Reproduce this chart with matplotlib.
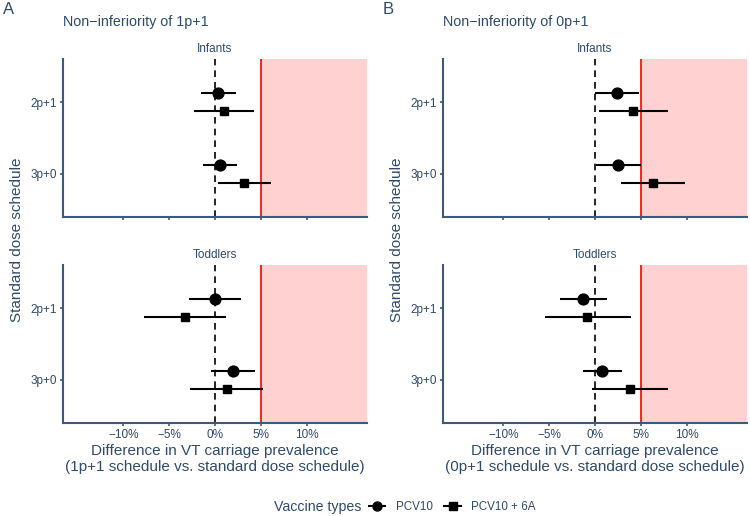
import matplotlib
matplotlib.use('Agg')
import matplotlib.pyplot as plt
from matplotlib.lines import Line2D

plt.rcParams['font.family'] = ['Liberation Sans', 'DejaVu Sans']

schedules = ['2p+1', '3p+0']
vaccines = ['PCV10', 'PCV10 + 6A']
xticks = [-10, -5, 0, 5, 10]
xtick_labels = ['\u221210%', '\u22125%', '0%', '5%', '10%']
margin = 5

# Panel A: non-inferiority of 1p+1  (values per schedule: 2p+1, 3p+0)
A_inf_pcv10 = [0.36, 0.54]
A_inf_pcv10_lo = [-1.56, -1.34]
A_inf_pcv10_hi = [2.25, 2.43]
A_inf_6a = [1.01, 3.19]
A_inf_6a_lo = [-2.25, 0.29]
A_inf_6a_hi = [4.24, 6.16]
A_tod_pcv10 = [0.0, 1.99]
A_tod_pcv10_lo = [-2.86, -0.40]
A_tod_pcv10_hi = [2.79, 4.42]
A_tod_6a = [-3.33, 1.30]
A_tod_6a_lo = [-7.72, -2.68]
A_tod_6a_hi = [1.16, 5.29]

# Panel B: non-inferiority of 0p+1
B_inf_pcv10 = [2.36, 2.54]
B_inf_pcv10_lo = [0.0, 0.11]
B_inf_pcv10_hi = [4.82, 5.0]
B_inf_6a = [4.13, 6.30]
B_inf_6a_lo = [0.40, 2.86]
B_inf_6a_hi = [7.93, 9.86]
B_tod_pcv10 = [-1.27, 0.76]
B_tod_pcv10_lo = [-3.84, -1.34]
B_tod_pcv10_hi = [1.30, 2.90]
B_tod_6a = [-0.83, 3.80]
B_tod_6a_lo = [-5.47, -0.36]
B_tod_6a_hi = [3.88, 8.00]

TXT = '#2E4A6C'
AX = '#3D5A7C'
W, H = 750, 516

fig = plt.figure(figsize=(7.5, 5.16), dpi=100)

def fx(px):
    return px / W

def fy(py):
    return 1 - py / H

def draw_panel(ax, est1, lo1, hi1, est2, lo2, hi2, strip, bottom):
    ypos = [2, 1]
    xl = (-16.6, 16.6)
    ax.axvspan(margin, xl[1], color='#FFD1D1', zorder=0, lw=0)
    ax.axvline(margin, color='#FF1010', lw=1.3, zorder=1)
    ax.axvline(0, color='black', lw=1.2, ls=(0, (4, 3)), zorder=1)
    d = 0.13
    for est, lo, hi, mk, ms, off in [(est1, lo1, hi1, 'o', 7.8, d), (est2, lo2, hi2, 's', 6.2, -d)]:
        for i in range(len(est)):
            y = ypos[i] + off
            ax.plot([lo[i], hi[i]], [y, y], color='black', lw=1.5, zorder=3, solid_capstyle='butt')
            ax.plot([est[i]], [y], marker=mk, ms=ms, color='black', zorder=4, ls='none')
    ax.set_xlim(*xl)
    ax.set_ylim(0.4, 2.6)
    ax.set_yticks(ypos)
    ax.set_yticklabels(schedules)
    ax.set_xticks(xticks)
    if bottom:
        ax.set_xticklabels(xtick_labels)
    else:
        ax.set_xticklabels([])
    for s in ['top', 'right']:
        ax.spines[s].set_visible(False)
    for s in ['left', 'bottom']:
        ax.spines[s].set_color(AX)
        ax.spines[s].set_linewidth(1.5)
    ax.tick_params(colors=AX, labelcolor=TXT, labelsize=8.5, length=2.5, width=1.2, pad=2)
    ax.set_facecolor('white')
    ax.set_title(strip, fontsize=8.5, color=TXT, pad=5)

panels = [
    (63, 'A', 'Non\u2212inferiority of 1p+1', '(1p+1 schedule vs. standard dose schedule)',
     (A_inf_pcv10, A_inf_pcv10_lo, A_inf_pcv10_hi, A_inf_6a, A_inf_6a_lo, A_inf_6a_hi),
     (A_tod_pcv10, A_tod_pcv10_lo, A_tod_pcv10_hi, A_tod_6a, A_tod_6a_lo, A_tod_6a_hi)),
    (443, 'B', 'Non\u2212inferiority of 0p+1', '(0p+1 schedule vs. standard dose schedule)',
     (B_inf_pcv10, B_inf_pcv10_lo, B_inf_pcv10_hi, B_inf_6a, B_inf_6a_lo, B_inf_6a_hi),
     (B_tod_pcv10, B_tod_pcv10_lo, B_tod_pcv10_hi, B_tod_6a, B_tod_6a_lo, B_tod_6a_hi)),
]

pw = 304
for left, letter, title, sub, inf, tod in panels:
    ax1 = fig.add_axes([fx(left), fy(217), fx(pw), (217 - 59) / H])
    ax2 = fig.add_axes([fx(left), fy(423), fx(pw), (423 - 265) / H])
    draw_panel(ax1, *inf, 'Infants', False)
    draw_panel(ax2, *tod, 'Toddlers', True)
    cx = fx(left + pw / 2)
    fig.text(fx(left - 60), fy(10), letter, fontsize=12, color=TXT, ha='left', va='center')
    fig.text(fx(left), fy(22), title, fontsize=10.3, color=TXT, ha='left', va='center')
    fig.text(cx, fy(451), 'Difference in VT carriage prevalence', fontsize=11, color=TXT, ha='center', va='center')
    fig.text(cx, fy(467), sub, fontsize=11, color=TXT, ha='center', va='center')
    fig.text(fx(left - 46), fy(240), 'Standard dose schedule', fontsize=11, color=TXT,
             ha='center', va='center', rotation=90)

fig.text(fx(274), fy(507), 'Vaccine types', fontsize=10.2, color=TXT, ha='left', va='center')
handles = [Line2D([0], [0], color='black', lw=1.5, marker='o', ms=6.5),
           Line2D([0], [0], color='black', lw=1.5, marker='s', ms=5.5)]
leg = fig.legend(handles, vaccines, loc='center left', bbox_to_anchor=(fx(369), fy(507)),
                 ncol=2, frameon=False, fontsize=8.4, handlelength=1.4, handletextpad=0.9,
                 columnspacing=1.0, borderaxespad=0, borderpad=0)
for t in leg.get_texts():
    t.set_color(TXT)

fig.savefig('out.png', dpi=100, facecolor='white')
